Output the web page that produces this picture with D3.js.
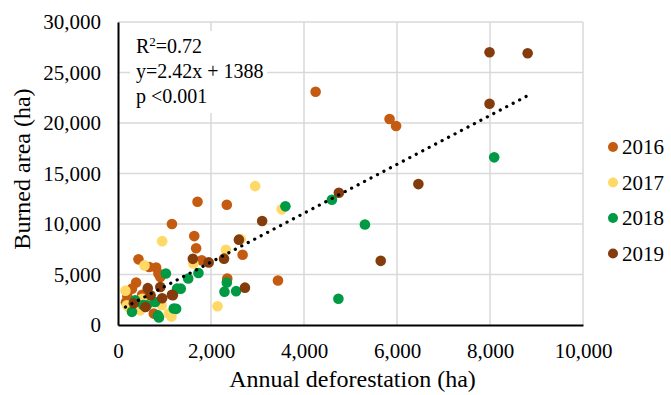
<!DOCTYPE html>
<html>
<head>
<meta charset="utf-8">
<script src="https://cdn.jsdelivr.net/npm/d3@7"></script>
<style>
  body { margin: 0; background: #fff; }
  svg text { font-family: "Liberation Serif", "Times New Roman", Times, "DejaVu Serif", serif; fill: #000; }
</style>
</head>
<body>
<script>
// values (ha)
const years = ["2016", "2017", "2018", "2019"];
const colors = ["#C55A11", "#FFD966", "#009A44", "#843C0C"];

const points2016 = [[4250,23100],[5840,20400],[5980,19700],[1710,12200],[2340,11900],[1160,10000],[1640,8800],[1680,7600],[2680,6950],[440,6500],[670,5750],[820,5700],[1800,6400],[910,4750],[870,5100],[2350,4600],[3440,4400],[390,4200],[300,3600],[200,2870],[170,2250],[770,1130],[520,3000]];
const points2017 = [[2950,13750],[3520,11450],[950,8300],[2640,8500],[2320,7450],[570,5900],[1620,6100],[2140,1850],[160,3400],[520,2600],[190,1950],[1090,1130],[480,1450],[940,1950],[220,1800],[1150,830],[700,2200]];
const points2018 = [[8090,16600],[3600,11750],[4600,12400],[5310,9950],[4740,2600],[1730,5150],[1030,5100],[1510,4600],[2340,4200],[2290,3300],[2540,3350],[1350,3600],[1270,3600],[370,2450],[620,1950],[800,2280],[300,1300],[880,750],[860,950],[1200,1630],[1250,1600],[540,1980]];
const points2019 = [[7990,27000],[8810,26900],[7990,21900],[6460,13950],[4750,13100],[3100,10300],[2600,8450],[1610,6550],[1950,6200],[2280,6570],[5650,6350],[2730,3700],[640,3650],[910,3760],[1160,3000],[950,2650],[700,2950],[340,2150],[590,1780],[1180,2950]];
const series = [points2016, points2017, points2018, points2019];

const xTicks = [0, 2000, 4000, 6000, 8000, 10000];
const yTicks = [0, 5000, 10000, 15000, 20000, 25000, 30000];
const slope = 2.42, intercept = 1388;
const statsLines = ["=0.72", "y=2.42x + 1388", "p <0.001"];

const width = 671, height = 395;
const marginLeft = 118, marginRight = 88, marginTop = 22, marginBottom = 70;
const serif = "'Liberation Serif', 'Times New Roman', Times, 'DejaVu Serif', serif";

const svg = d3.select("body").append("svg")
    .attr("width", width)
    .attr("height", height)
    .attr("font-family", serif);

const x = d3.scaleLinear().domain([0, 10000]).range([marginLeft, width - marginRight]);
const y = d3.scaleLinear().domain([0, 30000]).range([height - marginBottom, marginTop]);
const fmt = d3.format(",");

//gridlines
svg.append("g")
    .selectAll("line")
    .data(xTicks.slice(1))
    .join("line")
    .attr("x1", d => x(d)).attr("x2", d => x(d))
    .attr("y1", y(30000)).attr("y2", y(0))
    .attr("stroke", "#d9d9d9").attr("stroke-width", 1.5);
svg.append("g")
    .selectAll("line")
    .data(yTicks.slice(1))
    .join("line")
    .attr("x1", x(0)).attr("x2", x(10000))
    .attr("y1", d => y(d)).attr("y2", d => y(d))
    .attr("stroke", "#d9d9d9").attr("stroke-width", 1.5);

//stats box (white background hides the grid)
const box = svg.append("g");
box.append("rect")
    .attr("x", x(0) + 12).attr("y", y(30000) + 9)
    .attr("width", 137).attr("height", 82)
    .attr("fill", "#fff");
const statText = box.selectAll("text")
    .data(statsLines)
    .join("text")
    .attr("x", x(0) + 18)
    .attr("y", (d, i) => y(30000) + 31 + i * 25)
    .attr("font-size", "20px");
statText.filter((d, i) => i === 0).each(function () {
    const t = d3.select(this);
    t.append("tspan").text("R");
    t.append("tspan").attr("font-size", "13px").attr("dy", "-7").text("2");
    t.append("tspan").attr("dy", "7").text("=0.72");
});
statText.filter((d, i) => i > 0).text(d => d);

//axes
const xAxis = svg.append("g")
    .attr("transform", `translate(0,${y(0)})`)
    .call(d3.axisBottom(x).tickValues(xTicks).tickFormat(fmt).tickSize(0).tickPadding(18));
xAxis.attr("font-family", serif).attr("font-size", "21px");
xAxis.select(".domain").attr("stroke", "#000").attr("stroke-width", 2);

const yAxis = svg.append("g")
    .attr("transform", `translate(${x(0)},0)`)
    .call(d3.axisLeft(y).tickValues(yTicks).tickFormat(fmt).tickSize(0).tickPadding(17));
yAxis.attr("font-family", serif).attr("font-size", "21px");
yAxis.select(".domain").attr("stroke", "#000").attr("stroke-width", 2);

//points, drawn in series order so 2019 is on top
series.forEach((pts, i) => {
    svg.append("g")
        .attr("fill", colors[i])
        .selectAll("circle")
        .data(pts)
        .join("circle")
        .attr("cx", d => x(d[0]))
        .attr("cy", d => y(d[1]))
        .attr("r", 5.3);
});

//linear trend line over the range of the data
const allX = series.flat().map(d => d[0]);
const xMin = d3.min(allX), xMax = d3.max(allX);
svg.append("line")
    .attr("x1", x(xMin)).attr("y1", y(slope * xMin + intercept))
    .attr("x2", x(xMax)).attr("y2", y(slope * xMax + intercept))
    .attr("stroke", "#000")
    .attr("stroke-width", 3.2)
    .attr("stroke-linecap", "round")
    .attr("stroke-dasharray", "0.1 7.2");

//legend
const legend = svg.append("g").attr("transform", "translate(613,147)");
const rows = legend.selectAll("g")
    .data(years)
    .join("g")
    .attr("transform", (d, i) => `translate(0,${i * 35.5})`);
rows.append("circle").attr("r", 5).attr("fill", (d, i) => colors[i]);
rows.append("text")
    .attr("x", 9).attr("dy", "0.35em")
    .attr("font-size", "21px")
    .text(d => d);

//axis titles
svg.append("text")
    .attr("x", (x(0) + x(10000)) / 2 + 2)
    .attr("y", 387)
    .attr("text-anchor", "middle")
    .attr("font-size", "24px")
    .text("Annual deforestation (ha)");
svg.append("text")
    .attr("transform", `translate(30,169) rotate(-90)`)
    .attr("text-anchor", "middle")
    .attr("font-size", "24px")
    .text("Burned area (ha)");
</script>
</body>
</html>
